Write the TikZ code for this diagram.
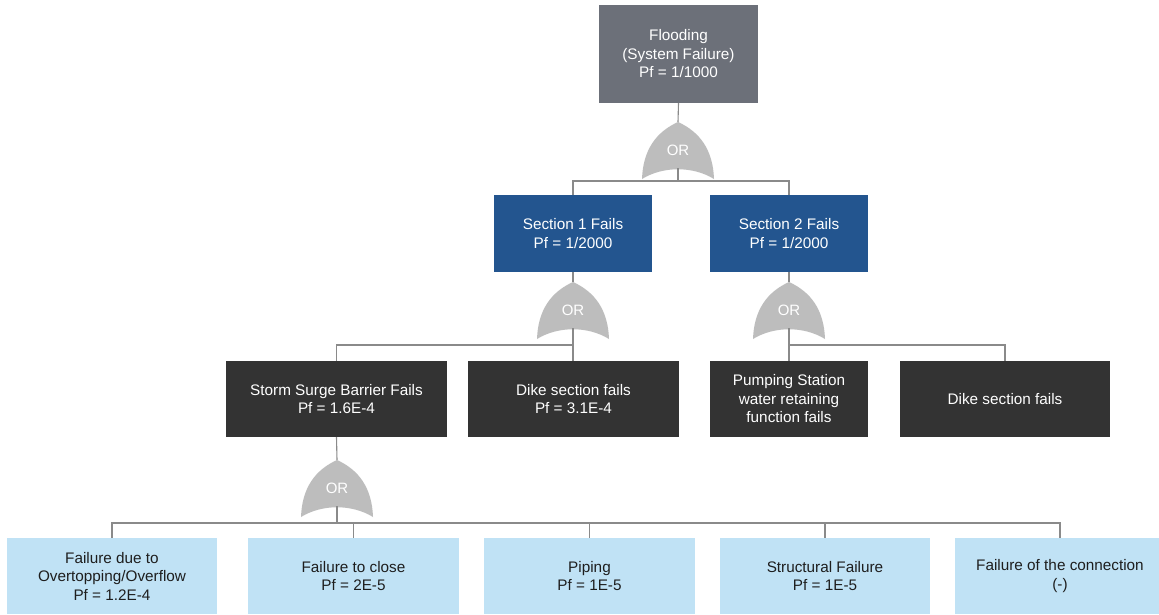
\documentclass[tikz,border=0pt]{standalone}
\usepackage{fontspec}
\setmainfont{Liberation Sans}
\definecolor{floodgray}{HTML}{6C7079}
\definecolor{secblue}{HTML}{23558F}
\definecolor{darkbox}{HTML}{333333}
\definecolor{lightblue}{HTML}{C0E2F5}
\definecolor{gategray}{HTML}{BDBDBD}
\definecolor{linegray}{HTML}{8A8A8A}
\definecolor{txtdark}{HTML}{1E1E1E}
\begin{document}
\begin{tikzpicture}[x=1pt,y=-1pt,
  box/.style={rectangle, inner sep=0pt, align=center, font=\fontsize{15.3}{18.5}\selectfont, minimum height=76pt},
  topbox/.style={box, fill=floodgray, text=white, minimum width=159pt, minimum height=98pt},
  secbox/.style={box, fill=secblue, text=white, minimum width=158pt, minimum height=77pt},
  midbox/.style={box, fill=darkbox, text=white},
  leafbox/.style={box, fill=lightblue, text=txtdark, minimum width=210pt},
  conn/.style={draw=linegray, line width=1.1pt},
  ortext/.style={text=white, font=\fontsize{15}{17}\selectfont, inner sep=0pt},
  orgate/.pic={
    \fill[gategray] (-36,57) .. controls (-35,28) and (-22,10) .. (0,0)
      .. controls (22,10) and (35,28) .. (36,57)
      .. controls (15,44) and (-15,44) .. (-36,57) -- cycle;
    \node[ortext] (-lbl) at (0,28) {OR};
    \coordinate (-tip) at (0,0);
    \coordinate (-base) at (0,46);
  }
]
\useasboundingbox (0,0) rectangle (1159,614);
\fill[white] (0,0) rectangle (1159,614);

% nodes
\node[topbox] (flood) at (678.5,54) {Flooding\\(System Failure)\\Pf = 1/1000};
\node[secbox] (s1) at (573,233.5) {Section 1 Fails\\Pf = 1/2000};
\node[secbox] (s2) at (789,233.5) {Section 2 Fails\\Pf = 1/2000};
\node[midbox, minimum width=221pt] (storm) at (336.5,399) {Storm Surge Barrier Fails\\Pf = 1.6E-4};
\node[midbox, minimum width=211pt] (dike1) at (573.5,399) {Dike section fails\\Pf = 3.1E-4};
\node[midbox, minimum width=158pt] (pump) at (789,399) {Pumping Station\\water retaining\\function fails};
\node[midbox, minimum width=210pt] (dike2) at (1005,399) {Dike section fails};
\node[leafbox] (f1) at (112,576) {Failure due to\\Overtopping/Overflow\\Pf = 1.2E-4};
\node[leafbox, minimum width=211pt] (f2) at (353.5,576) {Failure to close\\Pf = 2E-5};
\node[leafbox, minimum width=211pt] (f3) at (589.5,576) {Piping\\Pf = 1E-5};
\node[leafbox] (f4) at (825,576) {Structural Failure\\Pf = 1E-5};
\node[leafbox] (f5) at (1060,576) {Failure of the connection\\(-)};

% gates
\pic (g1) at (678,122) {orgate};
\pic (g2) at (573,282) {orgate};
\pic (g3) at (789,282) {orgate};
\pic (g4) at (337,460) {orgate};

% bus coordinates
\coordinate (b1) at (678,181);
\coordinate (b2) at (573,345);
\coordinate (b3) at (789,345);
\coordinate (b4) at (337,523);

% connectors
\draw[conn] (flood.south) -- (g1-tip);
\draw[conn] (g1-base) -- (b1);
\draw[conn] (s1.north) |- (b1) -| (s2.north);

\draw[conn] (s1.south) -- (g2-tip);
\draw[conn] (g2-base) -- (dike1.north -| g2-base);
\draw[conn] (storm.north) |- (b2);

\draw[conn] (s2.south) -- (g3-tip);
\draw[conn] (g3-base) -- (pump.north);
\draw[conn] (b3) -| (dike2.north);

\draw[conn] (storm.south) -- (g4-tip);
\draw[conn] (g4-base) -- (b4);
\draw[conn] (f1.north) |- (b4) -| (f5.north);
\draw[conn] (f2.north) -- (f2.north |- b4);
\draw[conn] (f3.north) -- (f3.north |- b4);
\draw[conn] (f4.north) -- (f4.north |- b4);
\end{tikzpicture}
\end{document}
